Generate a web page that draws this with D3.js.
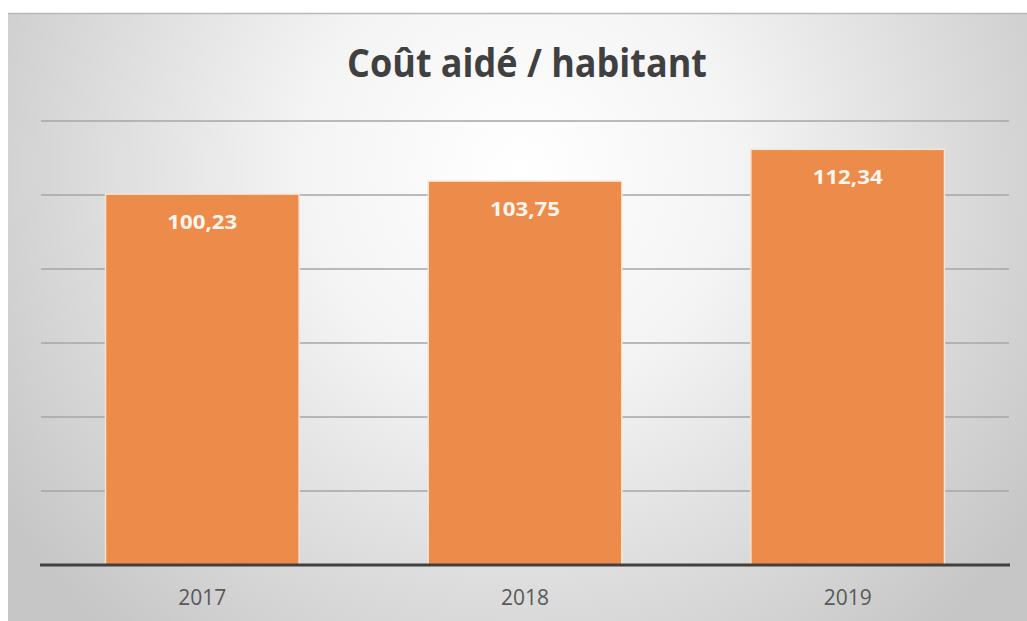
<!DOCTYPE html>
<html><head><meta charset="utf-8">
<script src="https://cdn.jsdelivr.net/npm/d3@7"></script>
<style>body{margin:0;background:#fff}svg{display:block}</style>
</head><body>
<script>
const categories = ["2017", "2018", "2019"];
const values = [100.23, 103.75, 112.34];
const valueLabels = ["100,23", "103,75", "112,34"];
const yTicks = [0, 20, 40, 60, 80, 100, 120];
const title = "Coût aidé / habitant";

const W = 1027, H = 621;
const svg = d3.select("body").append("svg").attr("width", W).attr("height", H);
const defs = svg.append("defs");
const grad = defs.append("radialGradient").attr("id", "bg")
  .attr("gradientUnits", "userSpaceOnUse").attr("cx", 520).attr("cy", 170).attr("r", 620);
grad.append("stop").attr("offset", "0").attr("stop-color", "#ffffff");
grad.append("stop").attr("offset", "0.35").attr("stop-color", "#f4f4f4");
grad.append("stop").attr("offset", "1").attr("stop-color", "#c6c6c6");

svg.append("rect").attr("x", 8).attr("y", 13).attr("width", W - 8).attr("height", H - 13).attr("fill", "url(#bg)");
svg.append("line").attr("x1", 8).attr("x2", W).attr("y1", 13.5).attr("y2", 13.5).attr("stroke", "#b8b8b8").attr("stroke-width", 1.5);

const x = d3.scaleBand().domain(categories).range([41, 1009]).paddingInner(0.4).paddingOuter(0.2);
const y = d3.scaleLinear().domain([0, 120]).range([565, 121]);

svg.append("text").attr("x", 527).attr("y", 77).attr("text-anchor", "middle")
  .attr("font-family", "'Open Sans', sans-serif").attr("font-weight", "bold").attr("font-size", 40)
  .attr("fill", "#404040").attr("textLength", 360).attr("lengthAdjust", "spacingAndGlyphs").text(title);

svg.append("g").selectAll("line").data(yTicks.filter(d => d > 0)).join("line")
  .attr("x1", 41).attr("x2", 1009).attr("y1", d => y(d)).attr("y2", d => y(d))
  .attr("stroke", "#a6a6a6").attr("stroke-width", 1.5);

svg.append("g").selectAll("rect").data(values).join("rect")
  .attr("x", (d, i) => x(categories[i])).attr("width", x.bandwidth())
  .attr("y", d => y(d)).attr("height", d => y(0) - y(d))
  .attr("fill", "#ed8b4a").attr("stroke", "#f6e3d3").attr("stroke-width", 1.5);

svg.append("line").attr("x1", 40).attr("x2", 1010).attr("y1", y(0)).attr("y2", y(0))
  .attr("stroke", "#404040").attr("stroke-width", 3);

svg.append("g").selectAll("text").data(values).join("text")
  .attr("x", (d, i) => x(categories[i]) + x.bandwidth() / 2)
  .attr("y", d => y(d) + 35).attr("text-anchor", "middle")
  .attr("font-family", "'Open Sans', sans-serif").attr("font-weight", "bold").attr("font-size", 20)
  .attr("textLength", 70).attr("lengthAdjust", "spacingAndGlyphs")
  .attr("fill", "#fdf6ee").text((d, i) => valueLabels[i]);

const xAxis = svg.append("g").attr("transform", `translate(0,${y(0)})`).call(d3.axisBottom(x).tickSize(0).tickPadding(0));
xAxis.select(".domain").remove();
xAxis.selectAll("text").attr("dy", null).attr("y", 40)
  .attr("font-family", "'Open Sans', sans-serif").attr("font-size", 22).attr("fill", "#595959")
  .attr("textLength", 48).attr("lengthAdjust", "spacingAndGlyphs");
</script>
</body></html>
